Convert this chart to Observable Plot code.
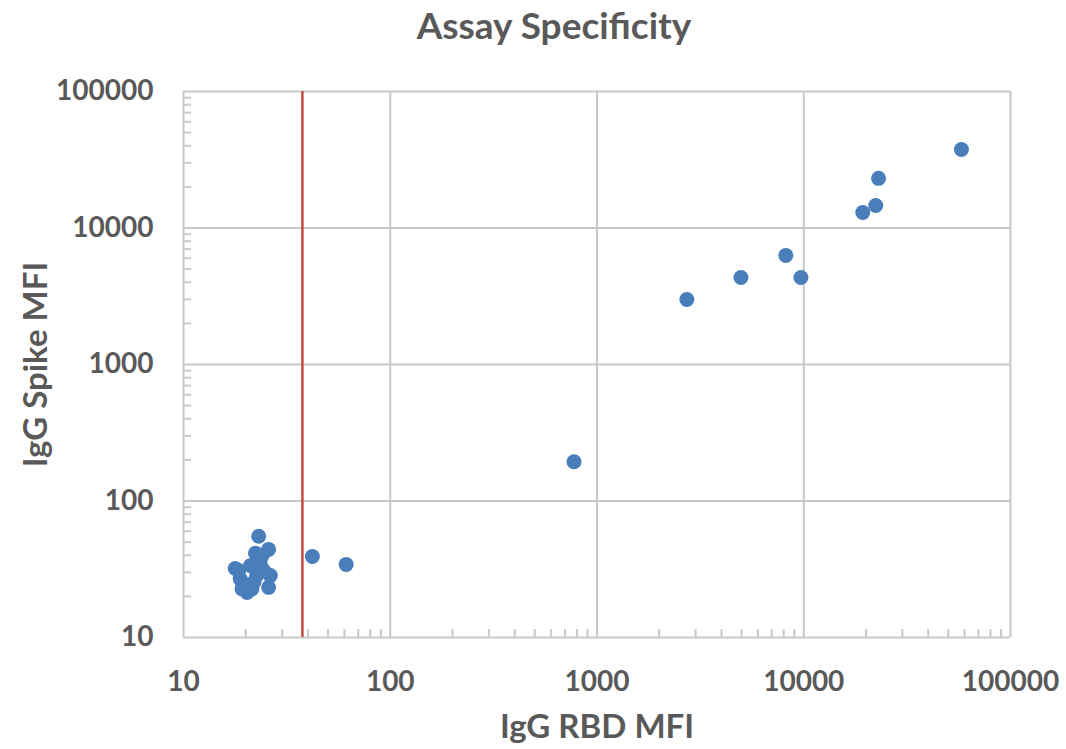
<!DOCTYPE html>
<html><head><meta charset="utf-8">
<script src="https://cdn.jsdelivr.net/npm/d3@7"></script>
<script src="https://cdn.jsdelivr.net/npm/@observablehq/plot@0.6"></script>
<style>
body{margin:0;background:#fff;font-family:Lato,"Open Sans",sans-serif;}
#title{height:60px;text-align:center;font-weight:bold;font-size:37px;color:#595959;line-height:50px;padding-left:42px;box-sizing:border-box;}
</style></head><body>
<div id="title">Assay Specificity</div>
<div id="chart"></div>
<script>
const rbd = [57900, 23000, 22300, 19300, 8190, 9690, 4970, 2720, 774, 42, 61.2,
  23.1, 25.8, 22.3, 24, 18.5, 17.8, 21.1, 23.5, 26.3, 25.8, 20.3, 19.6, 21.9, 18.8, 22.6, 19.2, 24.4, 21.4];
const spike = [37600, 23100, 14600, 13000, 6300, 4340, 4340, 2990, 194, 39.2, 34.3,
  55.2, 44.2, 41.5, 39.8, 31, 32, 33.6, 34.7, 28.4, 23.3, 21.4, 24.7, 25.4, 26.9, 28.4, 22.7, 31, 22.7];
const cutoff = [37.6];
const majorTicks = [10, 100, 1000, 10000, 100000];
const tickLabels = ["10", "100", "1000", "10000", "100000"];
const minorTicks = [];
for (let d = 10; d < 100000; d *= 10) for (let k = 2; k <= 9; k++) minorTicks.push(d * k);

const data = rbd.map((x, i) => ({x, y: spike[i]}));
const grid = "#c9c9c9";
const txt = "#595959";
const fmt = d => tickLabels[majorTicks.indexOf(d)];

const plot = Plot.plot({
  width: 1066,
  height: 689,
  marginTop: 31,
  marginLeft: 183,
  marginRight: 56,
  marginBottom: 112,
  style: {fontFamily: "Lato, 'Open Sans', sans-serif", color: txt, background: "#fff"},
  x: {type: "log", domain: [10, 100000]},
  y: {type: "log", domain: [10, 100000]},
  marks: [
    Plot.ruleX(majorTicks, {stroke: grid, strokeWidth: 2}),
    Plot.ruleY(majorTicks, {stroke: grid, strokeWidth: 2}),
    Plot.axisX({ticks: minorTicks, tickSize: -8, text: null, stroke: grid, strokeWidth: 2, label: null}),
    Plot.axisY({ticks: minorTicks, tickSize: -8, text: null, stroke: grid, strokeWidth: 2, label: null}),
    Plot.axisX({ticks: majorTicks, tickFormat: fmt, tickSize: 0, tickPadding: 34,
      fontSize: 28, fontWeight: "bold", fill: txt,
      label: "IgG RBD MFI", labelAnchor: "center", labelArrow: "none", labelOffset: 100}),
    Plot.axisY({ticks: majorTicks, tickFormat: fmt, tickSize: 0, tickPadding: 30,
      fontSize: 28, fontWeight: "bold", fill: txt,
      label: "IgG Spike MFI", labelAnchor: "center", labelArrow: "none", labelOffset: 160}),
    Plot.ruleX(cutoff, {stroke: "#be4b48", strokeWidth: 2.5}),
    Plot.dot(data, {x: "x", y: "y", r: 7.5, fill: "#4a7ebb", stroke: "none"})
  ]
});
d3.select(plot).selectAll("[aria-label='x-axis label'] text, [aria-label='y-axis label'] text")
  .attr("font-size", 33).attr("font-weight", "bold").attr("fill", txt);
document.getElementById("chart").appendChild(plot);
</script></body></html>
